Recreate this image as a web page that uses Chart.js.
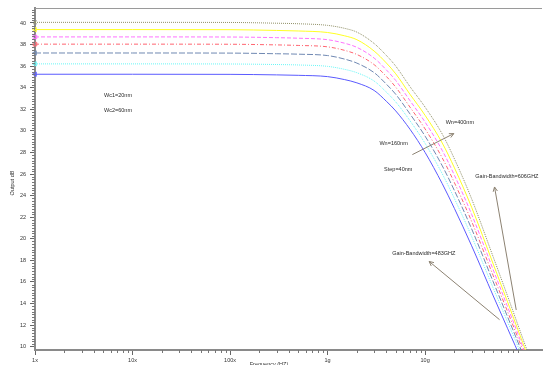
<!DOCTYPE html>
<html>
<head>
<meta charset="utf-8">
<script src="https://cdn.jsdelivr.net/npm/chart.js@4.4.1/dist/chart.umd.min.js"></script>
<style>
  html, body { margin: 0; padding: 0; background: #ffffff; }
  #wrap { width: 547px; height: 365px; }
</style>
</head>
<body>
<div id="wrap"><canvas id="c" width="547" height="365"></canvas></div>
<script>
// AC sweep: output gain (dB) versus frequency for Wn = 160..400nm, step 40nm
const freqHz = [1e6, 1e7, 1e8, 3e8, 5e8, 1e9, 1.5e9, 2e9, 3e9, 4e9, 5e9, 7e9, 1e10, 1.5e10, 2e10, 3e10, 5e10, 7e10, 1e11, 1.5e11];

const gainWn400 = [40.06, 40.06, 40.05, 39.98, 39.93, 39.78, 39.50, 39.15, 38.10, 37.00, 36.00, 34.10, 32.20, 29.70, 27.40, 23.70, 18.30, 14.70, 10.80, 6.40];
const gainWn360 = [39.39, 39.39, 39.38, 39.31, 39.26, 39.12, 38.81, 38.45, 37.40, 36.30, 35.29, 33.39, 31.44, 28.87, 26.57, 22.92, 17.65, 14.16, 10.39, 6.06];
const gainWn320 = [38.71, 38.71, 38.70, 38.64, 38.59, 38.45, 38.12, 37.74, 36.75, 35.66, 34.67, 32.80, 30.81, 28.18, 25.88, 22.26, 17.11, 13.71, 10.04, 5.77];
const gainWn280 = [38.04, 38.04, 38.03, 37.97, 37.92, 37.79, 37.46, 37.08, 36.14, 35.05, 34.05, 32.20, 30.18, 27.49, 25.19, 21.61, 16.57, 13.26, 9.70, 5.49];
const gainWn240 = [37.22, 37.22, 37.21, 37.15, 37.11, 36.98, 36.65, 36.28, 35.40, 34.34, 33.39, 31.57, 29.51, 26.76, 24.46, 20.92, 16.00, 12.78, 9.33, 5.18];
const gainWn200 = [36.21, 36.21, 36.20, 36.15, 36.11, 35.98, 35.70, 35.39, 34.62, 33.60, 32.68, 30.94, 28.84, 26.02, 23.72, 20.22, 15.42, 12.30, 8.96, 4.88];
const gainWn160 = [35.25, 35.25, 35.24, 35.19, 35.15, 35.03, 34.75, 34.45, 33.75, 32.75, 31.85, 30.15, 28.00, 25.10, 22.80, 19.35, 14.70, 11.70, 8.50, 4.50];

const seriesNames = ['Wn=400nm', 'Wn=360nm', 'Wn=320nm', 'Wn=280nm', 'Wn=240nm', 'Wn=200nm', 'Wn=160nm'];

const xTickValues = [1e6, 1e7, 1e8, 1e9, 1e10];
const xTickLabels = ['1x', '10x', '100x', '1g', '10g'];
const yTickValues = [10, 12, 14, 16, 18, 20, 22, 24, 26, 28, 30, 32, 34, 36, 38, 40];

// per-curve look: colour, dash, start marker
const looks = [
  { color: '#8f8f66', dash: [1, 1],       marker: 'crossRot', rot: 0 },
  { color: '#ffff22', dash: [],           marker: 'triangle', rot: -90 },
  { color: '#ff72ff', dash: [4, 2],       marker: 'rect',     rot: 0 },
  { color: '#ff6470', dash: [4, 2, 1, 2], marker: 'rect',     rot: 0 },
  { color: '#6f88b2', dash: [6, 2],       marker: 'triangle', rot: -90 },
  { color: '#66f6f6', dash: [1, 1],       marker: 'triangle', rot: -90 },
  { color: '#5a5aff', dash: [],           marker: 'triangle', rot: -90 }
];

const allGains = [gainWn400, gainWn360, gainWn320, gainWn280, gainWn240, gainWn200, gainWn160];

const datasets = allGains.map((g, i) => ({
  label: seriesNames[i],
  data: freqHz.map((f, k) => ({ x: f, y: g[k] })),
  borderColor: looks[i].color,
  backgroundColor: 'rgba(0,0,0,0)',
  borderWidth: 1,
  borderDash: looks[i].dash,
  cubicInterpolationMode: 'monotone',
  pointStyle: looks[i].marker,
  rotation: looks[i].rot,
  pointRadius: ctx => (ctx.dataIndex === 0 ? 2.5 : 0),
  pointBorderColor: looks[i].color,
  pointBackgroundColor: 'rgba(0,0,0,0)',
  pointBorderWidth: 1,
  clip: { left: 6, top: 0, right: 0, bottom: 0 }
}));

// text notes and arrows placed in data coordinates (Hz, dB)
const notes = [
  { text: 'Wc1=20nm', f: 7.1e6, db: 33.25 },
  { text: 'Wc2=60nm', f: 7.1e6, db: 31.9 },
  { text: 'Wn=400nm', f: 2.27e10, db: 30.75 },
  { text: 'Wn=160nm', f: 4.75e9, db: 28.85 },
  { text: 'Step=40nm', f: 5.3e9, db: 26.4 },
  { text: 'Gain-Bandwidth=606GHZ', f: 6.9e10, db: 25.75 },
  { text: 'Gain-Bandwidth=483GHZ', f: 9.7e9, db: 18.6 }
];
const arrows = [
  { f1: 7.4e9, db1: 27.8, f2: 1.97e10, db2: 29.75 },
  { f1: 8.6e10, db1: 13.4, f2: 5.15e10, db2: 24.8 },
  { f1: 5.8e10, db1: 12.5, f2: 1.1e10, db2: 17.9 }
];

const FONT = "'Liberation Sans', Arial, sans-serif";

const decorations = {
  id: 'decorations',
  afterDraw(chart) {
    const { ctx, chartArea: a, scales } = chart;
    const xs = scales.x, ys = scales.y;
    ctx.save();

    // frame line along the top of the plot
    ctx.strokeStyle = '#9a9a9a';
    ctx.lineWidth = 1;
    ctx.beginPath();
    ctx.moveTo(a.left, a.top + 0.5);
    ctx.lineTo(a.right, a.top + 0.5);
    ctx.stroke();

    // minor ticks
    ctx.strokeStyle = '#777';
    ctx.beginPath();
    for (let v = 10; v <= 41.3; v += 0.25) {
      if (Math.abs(v / 2 - Math.round(v / 2)) < 1e-6) continue;
      const y = Math.round(ys.getPixelForValue(v)) + 0.5;
      if (y < a.top || y > a.bottom) continue;
      ctx.moveTo(a.left - 3, y);
      ctx.lineTo(a.left, y);
    }
    for (let d = 1e6; d <= 1e11; d *= 10) {
      for (let m = 2; m <= 9; m++) {
        const v = d * m;
        if (v > xs.max) continue;
        const x = Math.round(xs.getPixelForValue(v)) + 0.5;
        ctx.moveTo(x, a.bottom);
        ctx.lineTo(x, a.bottom + 3);
      }
    }
    ctx.stroke();

    // axis titles
    ctx.fillStyle = '#333';
    ctx.font = '5.5px ' + FONT;
    ctx.textAlign = 'center';
    ctx.textBaseline = 'middle';
    ctx.fillText('Frequency (HZ)', 269, 364);
    ctx.save();
    ctx.translate(12, 183);
    ctx.rotate(-Math.PI / 2);
    ctx.fillText('Output dB', 0, 0);
    ctx.restore();

    // notes
    ctx.fillStyle = '#2a2a2a';
    for (const n of notes) {
      ctx.fillText(n.text, xs.getPixelForValue(n.f), ys.getPixelForValue(n.db));
    }

    // arrows
    ctx.strokeStyle = '#8c8272';
    ctx.lineWidth = 1;
    for (const r of arrows) {
      const x1 = xs.getPixelForValue(r.f1), y1 = ys.getPixelForValue(r.db1);
      const x2 = xs.getPixelForValue(r.f2), y2 = ys.getPixelForValue(r.db2);
      const ang = Math.atan2(y2 - y1, x2 - x1);
      const h = 5, s = 0.45;
      ctx.beginPath();
      ctx.moveTo(x1, y1);
      ctx.lineTo(x2, y2);
      ctx.moveTo(x2 - h * Math.cos(ang - s), y2 - h * Math.sin(ang - s));
      ctx.lineTo(x2, y2);
      ctx.lineTo(x2 - h * Math.cos(ang + s), y2 - h * Math.sin(ang + s));
      ctx.stroke();
    }
    ctx.restore();
  }
};

new Chart(document.getElementById('c'), {
  type: 'line',
  data: { datasets },
  options: {
    responsive: false,
    animation: false,
    layout: { padding: { top: 8, right: 0, left: 0, bottom: 0 } },
    plugins: { legend: { display: false }, tooltip: { enabled: false } },
    elements: { line: { tension: 0 } },
    scales: {
      x: {
        type: 'logarithmic',
        min: 1e6,
        max: 1.58e11,
        afterFit(s) { s.height = 15; },
        afterBuildTicks(s) { s.ticks = xTickValues.map(v => ({ value: v })); },
        ticks: {
          autoSkip: false,
          maxRotation: 0,
          padding: 2,
          color: '#333',
          font: { family: FONT, size: 5.5 },
          callback: v => {
            const i = xTickValues.indexOf(v);
            return i >= 0 ? xTickLabels[i] : '';
          }
        },
        grid: { drawOnChartArea: false, tickLength: 5, color: '#666', tickColor: '#666' },
        border: { color: '#8a8a8a', width: 2 }
      },
      y: {
        type: 'linear',
        min: 9.69,
        max: 41.39,
        afterFit(s) { s.width = 35; },
        afterBuildTicks(s) { s.ticks = yTickValues.map(v => ({ value: v })); },
        ticks: {
          padding: 4,
          color: '#333',
          font: { family: FONT, size: 5.5 },
          callback: v => String(v)
        },
        grid: { drawOnChartArea: false, tickLength: 5, color: '#666', tickColor: '#666' },
        border: { color: '#8a8a8a', width: 2 }
      }
    }
  },
  plugins: [decorations]
});
</script>
</body>
</html>
